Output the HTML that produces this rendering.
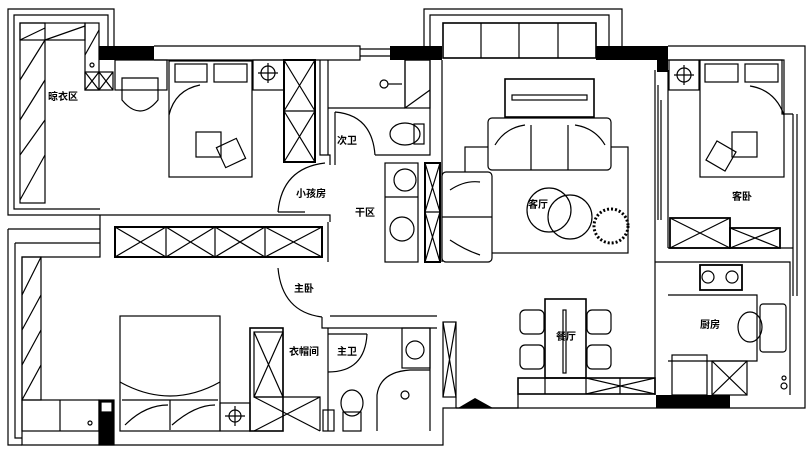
<!DOCTYPE html>
<html><head><meta charset="utf-8"><style>
html,body{margin:0;padding:0;background:#fff;}
svg{display:block;}
text{font-family:"Liberation Sans","Noto Sans CJK SC",sans-serif;font-size:10px;font-weight:bold;fill:#000;}
</style></head><body>
<svg width="812" height="449" viewBox="0 0 812 449" xmlns="http://www.w3.org/2000/svg">
<g fill="none" stroke="#000" stroke-width="1.2">
<!-- left top balcony -->
<path d="M114 46 V9 H8 V215 H100"/>
<path d="M108 46 V15 H14 V209 H100"/>
<rect x="20" y="23" width="25" height="180"/>
<rect x="20" y="23" width="65" height="17"/>
<path d="M20 40 L45 28 M45 40 L85 26 M20 80 L45 40 M20 120 L45 80 M20 155 L45 120 M20 200 L45 155"/>
<rect x="85" y="23" width="14" height="67"/>
<path d="M85 55 L99 30"/>
<rect x="85" y="72" width="28" height="18"/><path d="M85 72 L99 90 M99 72 L85 90 M99 72 L113 90 M113 72 L99 90"/>
<circle cx="92" cy="65" r="2"/>
<!-- top walls -->
<path d="M154 46 H360 V60 H154 M360 49 H390 M360 56 H390"/>
<!-- vanity -->
<rect x="115" y="60" width="52" height="30"/>
<path d="M122 78 V100 Q140 122 158 100 V78 Z"/>
<!-- bed 1 -->
<rect x="169" y="61" width="83" height="116"/>
<rect x="175" y="64" width="32" height="18"/><rect x="214" y="64" width="33" height="18"/>
<path d="M169 115 Q175 90 200 85"/>
<rect x="196" y="132" width="25" height="25"/><rect x="220" y="142" width="22" height="22" transform="rotate(-25 231 153)"/>
<rect x="253" y="60" width="31" height="30"/><circle cx="268" cy="73" r="7"/><path d="M258 73 H278 M268 63 V83"/>
<rect x="284" y="60" width="31" height="102" stroke-width="2"/>
<path d="M284 60 L315 111 M315 60 L284 111 M284 111 H315 M284 111 L315 162 M315 111 L284 162"/>
<path d="M320 60 V155 H330 V165 M328 60 V155"/>
<!-- bathroom ci wei -->
<path d="M328 108 H405 M405 60 V108 M405 60 H430 V155 H375"/>
<rect x="405" y="60" width="25" height="48"/><path d="M405 108 L430 90"/>
<circle cx="384" cy="84" r="4"/><path d="M388 84 H402"/>
<ellipse cx="405" cy="134" rx="15" ry="11"/><rect x="414" y="124" width="10" height="20"/>
<path d="M335 112 V165 M335 112 Q372 115 375 155"/>
<!-- door small kid room -->
<path d="M278 212 Q282 168 325 163 M278 212 H305"/>
<!-- dry area -->
<rect x="385" y="163" width="33" height="99"/><path d="M385 197 H418"/>
<circle cx="405" cy="180" r="11"/><circle cx="402" cy="229" r="12"/>
<rect x="425" y="163" width="15" height="99" stroke-width="2"/>
<path d="M425 212 H440 M425 163 L440 212 M440 163 L425 212 M425 212 L440 262 M440 212 L425 262"/>
<path d="M442 60 V262"/>
<!-- wardrobe strip middle -->
<path d="M100 215 V257 H22 V445 H443 V408 H805 V296 M328 222 V262"/>
<path d="M100 215 H330 V222"/>
<rect x="115" y="227" width="207" height="30" stroke-width="2"/>
<path d="M166 227 V257 M215 227 V257 M265 227 V257 M115 227 L166 257 M166 227 L115 257 M166 227 L215 257 M215 227 L166 257 M215 227 L265 257 M265 227 L215 257 M265 227 L322 257 M322 227 L265 257"/>
<!-- lower-left outer -->
<path d="M8 229 V445 H22 M8 229 H100 M15 243 V438 H22 M15 243 H100"/>
<rect x="22" y="257" width="19" height="143"/>
<path d="M22 295 L41 257 M22 330 L41 295 M22 365 L41 330 M22 400 L41 365"/>
<rect x="22" y="400" width="77" height="31"/><path d="M60 400 V431"/><circle cx="90" cy="423" r="2"/>
<rect x="99" y="400" width="15" height="45" fill="#000"/>
<rect x="101" y="402" width="11" height="10" fill="#fff"/>
<!-- main bed -->
<rect x="120" y="316" width="100" height="115"/>
<path d="M120 382 Q170 410 220 382 M122 400 H218 M170 400 V430 M125 425 Q145 405 168 405 M172 425 Q195 405 215 405"/>
<rect x="220" y="403" width="30" height="28"/><circle cx="235" cy="416" r="6"/><path d="M225 416 H245 M235 406 V426"/>
<rect x="250" y="328" width="33" height="103" stroke-width="1.6"/>
<rect x="254" y="332" width="29" height="65"/><path d="M254 332 L283 397 M283 332 L254 397 M254 397 H320 V431 M254 397 L320 431 M320 397 L254 431"/>
<path d="M278 268 Q282 312 322 317 M322 317 V328 H437 M330 316 H437"/>
<!-- main bath -->
<path d="M328 328 V431 M328 372 Q365 372 367 334 M328 334 H367"/>
<rect x="402" y="328" width="28" height="40"/><circle cx="415" cy="350" r="9"/>
<path d="M377 431 V395 Q380 372 410 370 H430"/><circle cx="405" cy="395" r="4"/>
<ellipse cx="352" cy="403" rx="11" ry="13"/><rect x="343" y="412" width="18" height="19"/>
<rect x="323" y="410" width="11" height="21"/>
<rect x="443" y="322" width="13" height="75"/><path d="M443 322 L456 397 M456 322 L443 397"/>
<path d="M430 328 V431 M456 397 V408"/>
<!-- living top bay -->
<path d="M424 46 V9 H622 V46 M430 46 V15 H609 V46"/>
<rect x="443" y="23" width="153" height="35" stroke-width="1.6"/>
<path d="M481 23 V58 M519 23 V58 M558 23 V58"/>
<!-- TV & sofa -->
<rect x="505" y="79" width="89" height="38" stroke-width="1.6"/>
<rect x="512" y="95" width="75" height="5"/>
<rect x="465" y="147" width="163" height="106"/>
<rect x="488" y="118" width="123" height="52" rx="4" fill="#fff"/>
<path d="M531 125 V170 M568 125 V170"/>
<path d="M495 145 Q505 128 525 125 M575 125 Q595 128 605 145"/>
<rect x="442" y="172" width="50" height="90" rx="4" fill="#fff"/>
<path d="M442 217 H492 M450 190 Q465 180 480 182 M450 240 Q465 250 480 255"/>
<circle cx="549" cy="210" r="22"/><circle cx="570" cy="217" r="22"/>
<circle cx="611" cy="226" r="17" stroke-width="3" stroke-dasharray="2 2"/>
<!-- living right wall -->
<path d="M655 70 V395 M668 70 V248 M658 85 V220 M661 100 V220"/>
<!-- right bedroom -->
<path d="M668 46 H805 V296 M793 114 V296 M797 114 V296"/>
<path d="M668 60 H782 V114 H793"/>
<rect x="669" y="60" width="30" height="30"/><circle cx="684" cy="75" r="7"/><path d="M674 75 H694 M684 65 V85"/>
<rect x="700" y="60" width="84" height="117"/>
<rect x="705" y="64" width="33" height="18"/><rect x="745" y="64" width="33" height="18"/>
<path d="M750 86 Q775 90 784 115"/>
<rect x="732" y="132" width="25" height="25"/><rect x="710" y="145" width="22" height="22" transform="rotate(30 721 156)"/>
<rect x="670" y="218" width="60" height="30" stroke-width="1.8"/><path d="M670 218 L730 248 M730 218 L670 248"/>
<rect x="730" y="228" width="50" height="20" stroke-width="1.8"/><path d="M730 228 L780 248 M780 228 L730 248"/>
<path d="M668 248 H793 M668 262 H790 V395 M655 262 H668"/>
<!-- kitchen -->
<rect x="700" y="265" width="42" height="25" stroke-width="1.8"/>
<circle cx="708" cy="277" r="6"/><circle cx="732" cy="277" r="6"/>
<path d="M668 295 H757 V361 H668"/>
<rect x="760" y="304" width="26" height="48" rx="3"/>
<ellipse cx="750" cy="327" rx="12" ry="15"/>
<rect x="672" y="355" width="35" height="40"/><rect x="712" y="361" width="35" height="34"/><path d="M712 361 L747 395 M747 361 L712 395"/>
<circle cx="784" cy="378" r="2"/><circle cx="784" cy="386" r="3"/>
<!-- dining -->
<rect x="545" y="299" width="41" height="79" stroke-width="1.6"/>
<rect x="563" y="310" width="3" height="63"/>
<rect x="520" y="310" width="24" height="24" rx="5"/><rect x="520" y="345" width="24" height="24" rx="5"/>
<rect x="587" y="310" width="24" height="24" rx="5"/><rect x="587" y="345" width="24" height="24" rx="5"/>
<rect x="518" y="378" width="137" height="16" stroke-width="1.6"/>
<path d="M545 378 V394 M586 378 V394 M620 378 V394 M586 378 L655 394 M655 378 L586 394"/>
<path d="M456 408 H518 V394"/>
</g>
<!-- black wall fills -->
<g fill="#000">
<rect x="99" y="46" width="55" height="14"/>
<rect x="390" y="46" width="52" height="14"/>
<rect x="596" y="46" width="72" height="14"/>
<rect x="657" y="60" width="11" height="12"/>
<polygon points="458,408 475,398 493,408"/>
<rect x="656" y="395" width="74" height="13"/>
<rect x="99" y="412" width="15" height="33"/>
</g>
<text x="48" y="100">晾衣区</text>
<text x="337" y="144">次卫</text>
<text x="296" y="197">小孩房</text>
<text x="355" y="216">干区</text>
<text x="528" y="208">客厅</text>
<text x="732" y="200">客卧</text>
<text x="294" y="292">主卧</text>
<text x="289" y="355">衣帽间</text>
<text x="337" y="355">主卫</text>
<text x="556" y="340">餐厅</text>
<text x="700" y="328">厨房</text>
</svg>
</body></html>
